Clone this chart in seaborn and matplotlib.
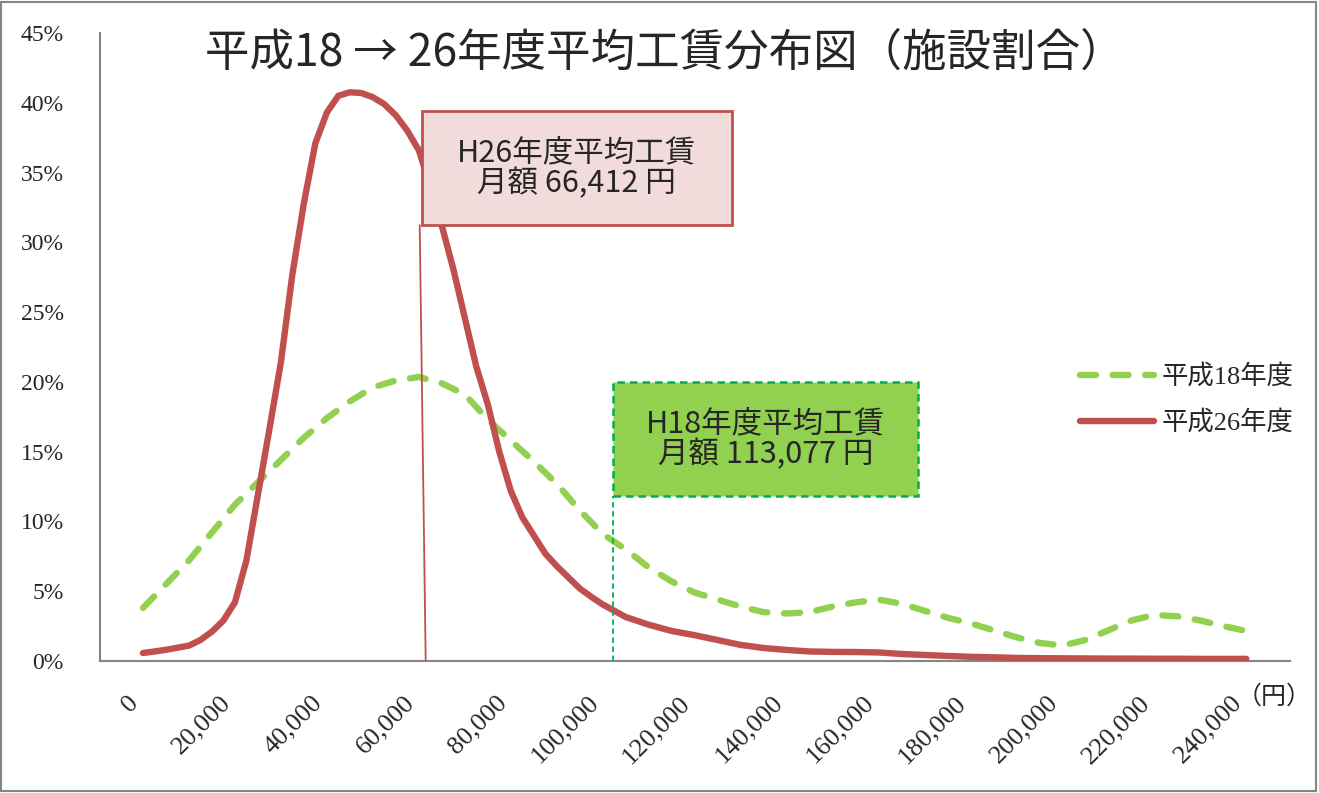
import numpy as np
import pandas as pd
import matplotlib
matplotlib.use("Agg")
import matplotlib.pyplot as plt
from matplotlib.patches import Rectangle
from matplotlib.font_manager import FontProperties
import seaborn as sns

# 月額工賃（円）: 平成18年度は5,000円刻み
wage_h18 = list(range(0, 240001, 5000))

# 施設割合（%） 平成18年度
share_h18 = [3.8, 5.5, 7.2, 9.2, 11.2, 12.8, 14.4, 16.0, 17.4, 18.6,
             19.6, 20.1, 20.35, 19.9, 19.1, 17.3, 15.8, 14.3, 12.7, 10.8,
             9.1, 8.0, 6.7, 5.7, 4.9, 4.4, 3.9, 3.5, 3.4, 3.5,
             3.9, 4.2, 4.4, 4.1, 3.6, 3.1, 2.7, 2.2, 1.7, 1.3,
             1.1, 1.5, 2.2, 2.9, 3.3, 3.2, 2.9, 2.5, 2.15]

# 平成26年度: 10万円までは2,500円刻み、それ以降は5,000円刻み
wage_h26 = list(range(0, 100001, 2500)) + list(range(105000, 240001, 5000))

# 施設割合（%） 平成26年度
share_h26 = [0.57, 0.68, 0.8, 0.95, 1.1, 1.5, 2.1, 2.9, 4.2, 7.2,
             11.9, 16.6, 21.4, 27.7, 32.8, 37.1, 39.3, 40.5, 40.75, 40.7,
             40.4, 39.9, 39.1, 38.0, 36.6, 34.0, 31.2, 28.1, 24.6, 21.1,
             18.4, 15.0, 12.2, 10.3, 9.0, 7.7, 6.8, 6.0, 5.2, 4.6,
             4.05,
             3.15, 2.6, 2.15, 1.85, 1.5, 1.15, 0.93, 0.79, 0.68,
             0.65, 0.64, 0.61, 0.5, 0.43, 0.36, 0.3, 0.26, 0.22, 0.2,
             0.19, 0.18, 0.17, 0.17, 0.16, 0.16, 0.15, 0.15, 0.15]

series_labels = ["平成18年度", "平成26年度"]

x_ticks = [0, 20000, 40000, 60000, 80000, 100000, 120000,
           140000, 160000, 180000, 200000, 220000, 240000]
x_tick_labels = ["0", "20,000", "40,000", "60,000", "80,000", "100,000", "120,000",
                 "140,000", "160,000", "180,000", "200,000", "220,000", "240,000"]
y_ticks = [0, 5, 10, 15, 20, 25, 30, 35, 40, 45]
y_tick_labels = ["0%", "5%", "10%", "15%", "20%", "25%", "30%", "35%", "40%", "45%"]

# 平均工賃
avg_h26 = "H26年度平均工賃\n月額 66,412 円"
avg_h18 = "H18年度平均工賃\n月額 113,077 円"

title = "平成18 → 26年度平均工賃分布図（施設割合）"

GREEN = "#92D050"
RED = "#C0504D"
AXIS_GREY = "#868686"

sns.set_style("white")
plt.rcParams["font.family"] = ["Noto Sans CJK JP", "DejaVu Sans"]
serif = ["Liberation Serif", "Noto Sans CJK JP"]

df18 = pd.DataFrame({"wage": wage_h18, "share": share_h18})
df26 = pd.DataFrame({"wage": wage_h26, "share": share_h26})

fig = plt.figure(figsize=(13.19, 7.93), dpi=100)
ax = fig.add_axes([0.0758, 0.1665, 0.9022, 0.7919])

sns.lineplot(data=df18, x="wage", y="share", ax=ax, color=GREEN, linewidth=4.6,
             linestyle=(0, (2.5, 2.6)), dash_capstyle="round",
             solid_joinstyle="round", label=series_labels[0], zorder=3)
sns.lineplot(data=df26, x="wage", y="share", ax=ax, color=RED, linewidth=4.6,
             solid_capstyle="round", solid_joinstyle="round",
             label=series_labels[1], zorder=4)

ax.set_xlim(-9350, 249500)
ax.set_ylim(0, 45)

# 平均線と吹き出し
ax.plot([60200, 61500], [31.24, 0], color=RED, linewidth=1.3, zorder=5)
ax.plot([102200, 102200], [0, 11.82], color="#00B050", linewidth=1.3,
        linestyle=(0, (3, 2)), zorder=5)

ax.add_patch(Rectangle((60650, 31.24), 67400, 8.17, facecolor="#F2DCDB",
                       edgecolor=RED, linewidth=2, zorder=6))
ax.text(94350, 35.3, avg_h26, ha="center", va="center", fontsize=22,
        linespacing=0.98, zorder=7)

ax.add_patch(Rectangle((102200, 11.82), 66300, 8.17, facecolor=GREEN,
                       edgecolor="#00B050", linewidth=1.8,
                       linestyle=(0, (3, 2)), zorder=6))
ax.text(135350, 15.9, avg_h18, ha="center", va="center", fontsize=22,
        linespacing=0.98, zorder=7)

ax.set_xticks(x_ticks)
ax.set_xticklabels(x_tick_labels, rotation=45, ha="right", family=serif, fontsize=19)
ax.set_yticks(y_ticks)
ax.set_yticklabels(y_tick_labels, family=serif, fontsize=17)
ax.tick_params(axis="x", length=0, pad=22)
ax.tick_params(axis="y", length=0, pad=26)
ax.set_xlabel("")
ax.set_ylabel("")

for side in ["top", "right"]:
    ax.spines[side].set_visible(False)
for side in ["left", "bottom"]:
    ax.spines[side].set_color(AXIS_GREY)
    ax.spines[side].set_linewidth(1.5)

leg = ax.legend(loc="center left", bbox_to_anchor=(0.8188, 0.496),
                bbox_transform=fig.transFigure, frameon=False,
                prop=FontProperties(family=serif, size=19),
                handlelength=2.8, handletextpad=0.3, labelspacing=0.8,
                borderpad=0, borderaxespad=0)

fig.text(0.504, 0.934, title, ha="center", va="center", fontsize=32)
fig.text(0.966, 0.121, "（円）", ha="center", va="center", fontsize=18)

fig.patches.append(Rectangle((0.001, 0.002), 0.997, 0.996, transform=fig.transFigure,
                             fill=False, edgecolor=AXIS_GREY, linewidth=1.5))

fig.savefig("out.png", dpi=100)
